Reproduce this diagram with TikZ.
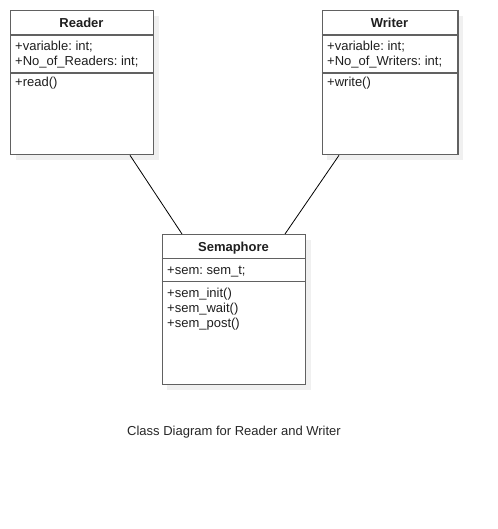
\documentclass[tikz,border=0pt]{standalone}
\usepackage{fontspec}
\setmainfont{Liberation Sans}
\frenchspacing
\usetikzlibrary{shadows,calc}
\begin{document}
\begin{tikzpicture}[x=1pt,y=-1pt,
  classbox/.style={draw=black!62, line width=1.3pt, fill=white, anchor=north west, inner sep=0pt,
    drop shadow={shadow xshift=5pt, shadow yshift=-5pt, fill=black!6, opacity=1}},
  sepline/.style={draw=black!62, line width=1.3pt},
  head/.style={font=\fontsize{13}{15}\selectfont\bfseries, text=black!88, inner sep=0pt, anchor=base},
  body/.style={font=\fontsize{13}{15}\selectfont, text=black!88, inner sep=0pt, anchor=base west, align=left},
  assoc/.style={draw=black, line width=0.8pt}]
\useasboundingbox (0,0) rectangle (497,529);
% Reader
\node[classbox, minimum width=143pt, minimum height=144pt] (reader) at (10,10) {};
\draw[sepline] (10,35) -- (153,35);
\draw[sepline] (10,73) -- (153,73);
\node[head] (readerT) at (81.5,27.3) {Reader};
\node[body] (readerA) at (15,66) {+variable: int;\\+No\_of\_Readers: int;};
\node[body] (readerM) at (15,87) {+read()};
% Writer
\node[classbox, minimum width=135.5pt, minimum height=144pt] (writer) at (321.7,10) {};
\draw[sepline] (321.7,35) -- (457.2,35);
\draw[sepline] (321.7,73) -- (457.2,73);
\node[head] (writerT) at (389.5,27.3) {Writer};
\node[body] (writerA) at (327,66) {+variable: int;\\+No\_of\_Writers: int;};
\node[body] (writerM) at (327,87) {+write()};
% Semaphore
\node[classbox, minimum width=143.3pt, minimum height=150pt] (sem) at (161.7,234) {};
\draw[sepline] (161.7,258.5) -- (305,258.5);
\draw[sepline] (161.7,281.7) -- (305,281.7);
\node[head] (semT) at (233.5,251.3) {Semaphore};
\node[body] (semA) at (167,274) {+sem: sem\_t;};
\node[body] (semM) at (167,327) {+sem\_init()\\+sem\_wait()\\+sem\_post()};
% associations
\draw[assoc] ($(reader.south west)+(120,0)$) -- ($(sem.north west)+(20.3,0)$);
\draw[assoc] ($(writer.south west)+(17.3,0)$) -- ($(sem.north west)+(123.3,0)$);
% caption
\node[font=\fontsize{13}{15}\selectfont, text=black!85, inner sep=0pt, anchor=base] (caption) at (234,435) {Class Diagram for Reader and Writer};
\end{tikzpicture}
\end{document}
